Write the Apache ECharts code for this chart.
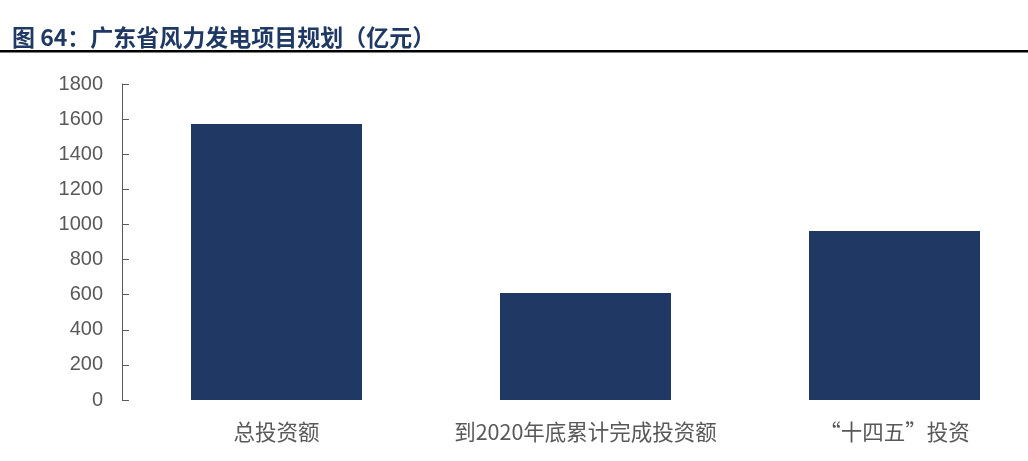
<!DOCTYPE html>
<html><head><meta charset="utf-8">
<script src="https://cdn.jsdelivr.net/npm/echarts@6/dist/echarts.min.js"></script>
<style>html,body{margin:0;padding:0;background:#fff;overflow:hidden;}#c{width:1049px;height:461px;}</style>
</head><body><div id="c"></div>
<script>
const categories = ['总投资额', '到2020年底累计完成投资额', '“十四五”投资'];
const values = [1572, 610, 962];
const yTicks = [0, 200, 400, 600, 800, 1000, 1200, 1400, 1600, 1800];
const titleText = '图 64：广东省风力发电项目规划（亿元）';

const chart = echarts.init(document.getElementById('c'), null, {renderer: 'canvas'});
chart.setOption({
  animation: false,
  backgroundColor: '#ffffff',
  title: {
    text: titleText, left: 7, top: 21,
    textStyle: {color: '#1F3864', fontSize: 23, fontWeight: 'bold', fontFamily: '"Noto Sans CJK SC", sans-serif'}
  },
  graphic: [{type: 'rect', shape: {x: 0, y: 50, width: 1049, height: 2.5}, style: {fill: '#000'}}],
  grid: {left: 122, top: 84, bottom: 61, right: 0, containLabel: false},
  xAxis: {
    type: 'category', data: categories,
    axisLine: {show: false}, axisTick: {show: false},
    axisLabel: {color: '#595959', fontSize: 21.5, margin: 21, fontFamily: '"Noto Sans CJK SC", sans-serif', interval: 0}
  },
  yAxis: {
    type: 'value', min: yTicks[0], max: yTicks[yTicks.length - 1], interval: 200,
    axisLine: {show: true, lineStyle: {color: '#595959', width: 1}},
    axisTick: {show: true, inside: true, length: 7, lineStyle: {color: '#595959'}},
    splitLine: {show: false},
    axisLabel: {color: '#595959', fontSize: 20, margin: 19, fontFamily: '"Liberation Sans", Arial, sans-serif',
      formatter: v => String(v)}
  },
  series: [{type: 'bar', data: values, barWidth: 171, itemStyle: {color: '#203864'}}]
});
</script></body></html>
